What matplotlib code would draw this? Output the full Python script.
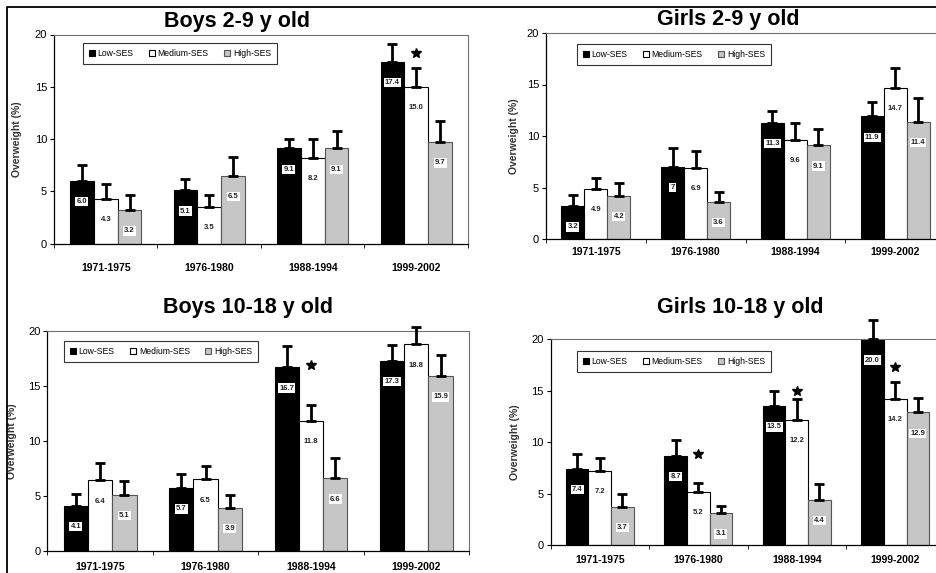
import numpy as np
import matplotlib.pyplot as plt
from matplotlib.lines import Line2D

plt.rcParams['font.family'] = ['Liberation Sans', 'DejaVu Sans']

periods = ['1971-1975', '1976-1980', '1988-1994', '1999-2002']
ses = ['Low-SES', 'Medium-SES', 'High-SES']

# Boys 2-9 y old
boys_young_low = [6.0, 5.1, 9.1, 17.4]
boys_young_med = [4.3, 3.5, 8.2, 15.0]
boys_young_high = [3.2, 6.5, 9.1, 9.7]
boys_young_low_err = [1.5, 1.1, 0.9, 1.7]
boys_young_med_err = [1.4, 1.1, 1.8, 1.8]
boys_young_high_err = [1.4, 1.8, 1.7, 2.0]
boys_young_stars = [(3, 18.2)]

# Girls 2-9 y old
girls_young_low = [3.2, 7.0, 11.3, 11.9]
girls_young_med = [4.9, 6.9, 9.6, 14.7]
girls_young_high = [4.2, 3.6, 9.1, 11.4]
girls_young_low_err = [1.1, 1.8, 1.1, 1.4]
girls_young_med_err = [1.0, 1.6, 1.7, 1.9]
girls_young_high_err = [1.2, 1.0, 1.6, 2.3]
girls_young_stars = []

# Boys 10-18 y old
boys_old_low = [4.1, 5.7, 16.7, 17.3]
boys_old_med = [6.4, 6.5, 11.8, 18.8]
boys_old_high = [5.1, 3.9, 6.6, 15.9]
boys_old_low_err = [1.1, 1.3, 1.9, 1.4]
boys_old_med_err = [1.6, 1.2, 1.5, 1.6]
boys_old_high_err = [1.2, 1.2, 1.8, 1.9]
boys_old_stars = [(2, 16.9)]

# Girls 10-18 y old
girls_old_low = [7.4, 8.7, 13.5, 20.0]
girls_old_med = [7.2, 5.2, 12.2, 14.2]
girls_old_high = [3.7, 3.1, 4.4, 12.9]
girls_old_low_err = [1.4, 1.5, 1.5, 1.9]
girls_old_med_err = [1.3, 0.8, 2.0, 1.6]
girls_old_high_err = [1.3, 0.7, 1.5, 1.4]
girls_old_stars = [(1, 8.8), (2, 15.0), (3, 17.3)]

# label printed as "7" in the original
label_override = {('Girls 2-9 y old', 0, 1): '7'}

W, H = 937, 573
fig = plt.figure(figsize=(W / 100, H / 100), dpi=100)

# pixel layout: axes box (left, top, right, bottom), title xy, legend xy, ylabel x, xtick pad
panels = [
    ('Boys 2-9 y old', [boys_young_low, boys_young_med, boys_young_high],
     [boys_young_low_err, boys_young_med_err, boys_young_high_err], boys_young_stars,
     (54, 34.5, 468, 243.5), (237, 22), (83, 43), 21.7, 14),
    ('Girls 2-9 y old', [girls_young_low, girls_young_med, girls_young_high],
     [girls_young_low_err, girls_young_med_err, girls_young_high_err], girls_young_stars,
     (546, 33, 945, 239), (728, 20), (577, 44), 519, 6),
    ('Boys 10-18 y old', [boys_old_low, boys_old_med, boys_old_high],
     [boys_old_low_err, boys_old_med_err, boys_old_high_err], boys_old_stars,
     (47.5, 331, 469, 550.7), (248, 307), (64, 341), 16.7, 8),
    ('Girls 10-18 y old', [girls_old_low, girls_old_med, girls_old_high],
     [girls_old_low_err, girls_old_med_err, girls_old_high_err], girls_old_stars,
     (550.5, 339.3, 944.5, 545), (740, 307), (577, 351), 520, 7.5),
]

colors = ['black', 'white', '#c6c6c6']
edges = ['black', 'black', '#555555']
width = 0.23
x = np.arange(len(periods))

for title, series, errs, stars, box, tpos, lpos, ylx, pad in panels:
    l, t, r, b = box
    ax = fig.add_axes([l / W, 1 - b / H, (r - l) / W, (b - t) / H])
    handles = []
    for i in range(3):
        xs = x + (i - 1) * width
        bars = ax.bar(xs, series[i], width, color=colors[i], edgecolor=edges[i],
                      linewidth=0.8, label=ses[i], zorder=2)
        handles.append(bars)
        ax.errorbar(xs, series[i], yerr=[np.zeros(4), errs[i]], fmt='none',
                    ecolor='black', elinewidth=2, capsize=3.8, capthick=2,
                    zorder=3, clip_on=False)
        for j, v in enumerate(series[i]):
            txt = label_override.get((title, i, j), f'{v:.1f}')
            ax.annotate(txt, (xs[j], v), xytext=(0, -15), textcoords='offset points',
                        ha='center', va='center', fontsize=5.5, fontweight='bold',
                        color='#222222', zorder=4,
                        bbox=dict(boxstyle='square,pad=0.15', fc='white', ec='none'))
    for j, sy in stars:
        ax.plot(x[j], sy, marker='*', color='black', markersize=7, zorder=4,
                clip_on=False)

    ax.set_xlim(-0.5, 3.5)
    ax.set_ylim(0, 20)
    ax.set_yticks([0, 5, 10, 15, 20])
    ax.set_xticks(np.arange(-0.5, 4, 1))
    ax.set_xticklabels([])
    ax.set_xticks(x, minor=True)
    ax.set_xticklabels(periods, minor=True, fontsize=7.5, fontweight='bold')
    ax.tick_params(axis='x', which='minor', length=0, pad=pad)
    ax.tick_params(axis='x', which='major', length=3, width=0.6, direction='out')
    ax.tick_params(axis='y', length=3, width=0.8, labelsize=8, pad=2)
    for s in ['top', 'right']:
        ax.spines[s].set_color('#707070')
        ax.spines[s].set_linewidth(0.8)
    for s in ['left', 'bottom']:
        ax.spines[s].set_linewidth(0.9)

    ax.set_ylabel('Overweight (%)', fontsize=7.5, fontweight='bold', color='#333333')
    ax.yaxis.set_label_coords((ylx - l) / (r - l), 0.5)

    fig.text(tpos[0] / W, 1 - tpos[1] / H, title, ha='center', va='center',
             fontsize=15.5, fontweight='bold')

    leg = ax.legend(handles=handles, loc='upper left',
                    bbox_to_anchor=(lpos[0] / W, 1 - lpos[1] / H),
                    bbox_transform=fig.transFigure, ncol=3, fontsize=6.2,
                    frameon=True, fancybox=False, edgecolor='black',
                    handlelength=0.7, handleheight=0.7, handletextpad=0.3,
                    columnspacing=1.8, borderpad=0.7, borderaxespad=0)
    leg.get_frame().set_linewidth(0.8)

# outer frame lines on top and left
fig.add_artist(Line2D([7 / W, 7 / W, 1], [0, 1 - 7 / H, 1 - 7 / H],
                      transform=fig.transFigure, color='black', linewidth=1.3))

fig.savefig('out.png', dpi=100)
